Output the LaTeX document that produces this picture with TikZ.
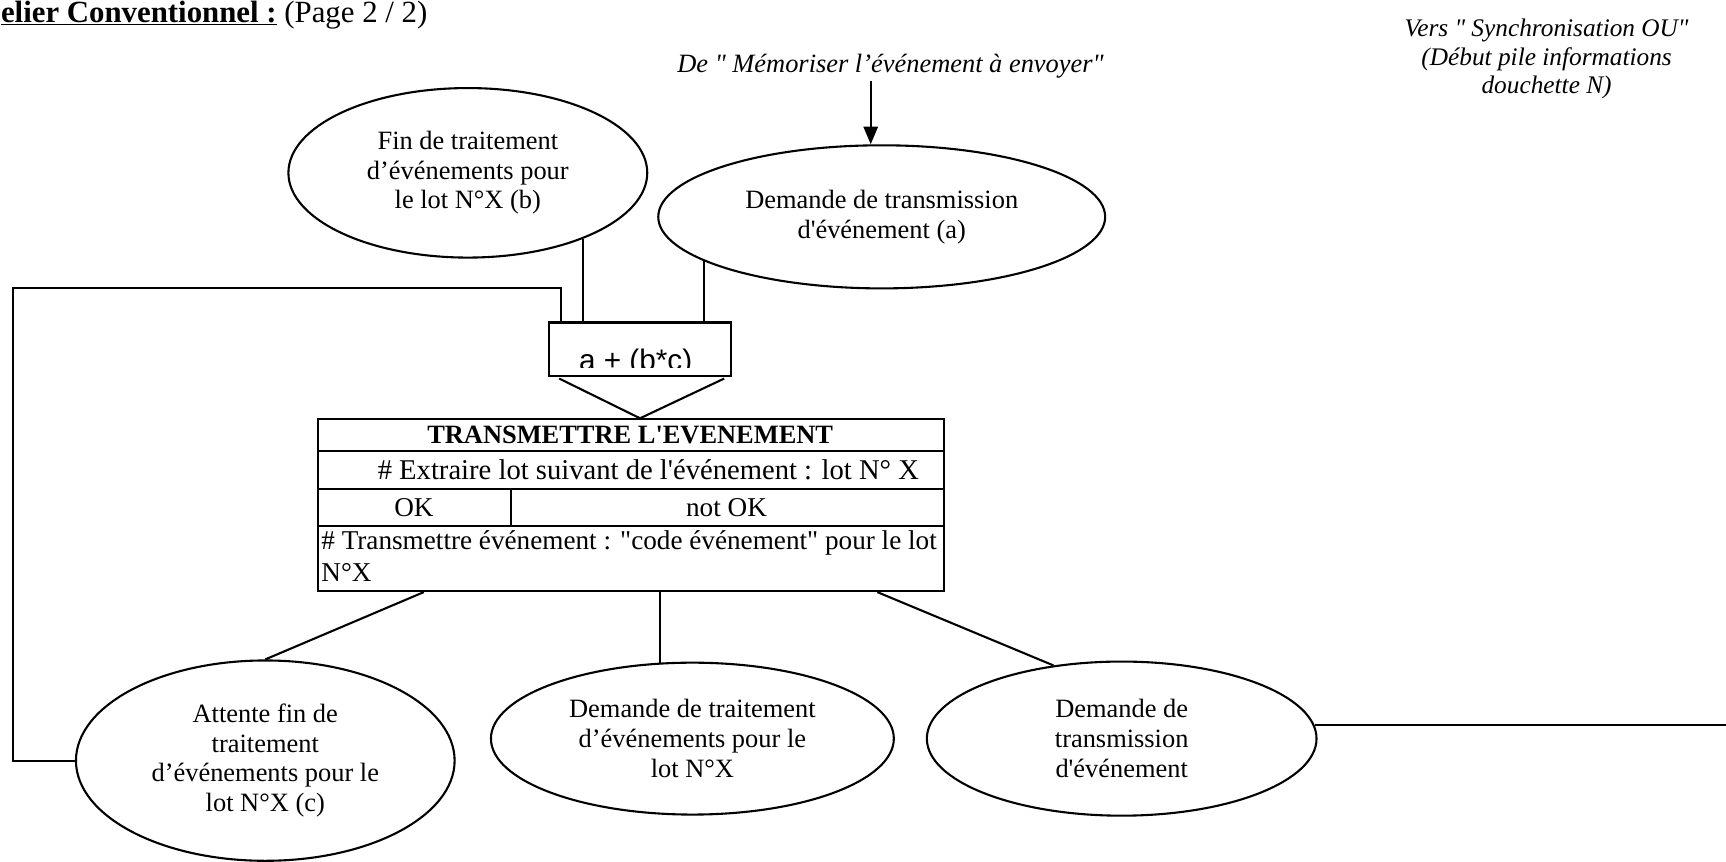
\documentclass[tikz,border=0pt]{standalone}
\usepackage{fontspec}
\setmainfont{Liberation Serif}[Ligatures=TeXOff]
\newfontfamily\arialf{Liberation Sans}
\usetikzlibrary{shapes.geometric,arrows.meta,calc}
\begin{document}
\begin{tikzpicture}[x=1pt,y=-1pt, line width=1.9pt,
  every node/.style={font=\fontsize{24}{27}\selectfont},
  oval/.style={draw, ellipse, inner sep=0pt, align=center},
  note/.style={font=\itshape\fontsize{24}{25.5}\selectfont, align=center},
  tbl/.style={font=\fontsize{24.7}{29}\selectfont},
  arrow/.style={-{Triangle[length=16pt,width=13pt]}}]
\useasboundingbox (0,0) rectangle (1568,783);

% title
\node[anchor=base west, inner sep=0pt, font=\fontsize{28}{30}\selectfont] (H) at (0,20)
  {\underline{\textbf{elier Conventionnel :}} (Page 2 / 2)};

% annotations
\node[note, anchor=base] (M) at (809,66) {De " Mémoriser l’événement à envoyer"};
\node[note, anchor=north, font=\itshape\fontsize{23}{26}\selectfont] (V) at (1405,13)
  {Vers " Synchronisation OU"\\(Début pile informations\\douchette N)};

% ellipses
\node[oval, minimum width=326pt, minimum height=154pt] (B) at (425,157)
  {Fin de traitement\\d’événements pour\\le lot N°X (b)};
\node[oval, minimum width=406pt, minimum height=130pt] (A) at (801,197)
  {Demande de transmission\\d'événement (a)};
\node[oval, minimum width=344pt, minimum height=182pt] (C) at (241,691)
  {Attente fin de\\traitement\\d’événements pour le\\lot N°X (c)};
\node[oval, minimum width=366pt, minimum height=138pt] (D) at (629,671)
  {Demande de traitement\\d’événements pour le\\lot N°X};
\node[oval, minimum width=354pt, minimum height=140pt] (E) at (1019,671)
  {Demande de\\transmission\\d'événement};

% synchronisation box
\node[draw, minimum width=165pt, minimum height=49pt, inner sep=0pt, anchor=north west] (F) at (498,292) {};
\begin{scope}
  \clip (F.north west) rectangle ($(F.south east)+(0,-9)$);
  \node[font=\arialf\fontsize{27}{30}\selectfont, anchor=base, inner sep=0pt] (Ft) at ($(F.south)+(-4,-6)$) {a + (b*c)};
\end{scope}

% table
\node[draw, minimum width=569pt, minimum height=156pt, inner sep=0pt, anchor=north west] (T) at (288,380) {};
\draw ($(T.north west)+(0,30)$) -- ($(T.north east)+(0,30)$);
\draw ($(T.north west)+(0,64)$) -- ($(T.north east)+(0,64)$);
\draw ($(T.north west)+(0,98)$) -- ($(T.north east)+(0,98)$);
\draw ($(T.north west)+(176,64)$) -- ($(T.north west)+(176,98)$);
\node[font=\bfseries\fontsize{24}{27}\selectfont] (T1) at (572.5,395) {TRANSMETTRE L'EVENEMENT};
\node[tbl, font=\fontsize{26}{29}\selectfont] (T2) at (589,427) {\# Extraire lot suivant de l'événement : lot N° X};
\node[tbl] (T3) at (376,461) {OK};
\node[tbl] (T4) at (660,461) {not OK};
\node[tbl, anchor=north west, align=left, inner sep=0pt] (T5) at (291,481)
  {\# Transmettre événement : "code événement" pour le lot\\N°X};

% V below box
\draw ($(F.south west)+(10,1)$) -- (F.south |- T.north) -- ($(F.south east)+(-7,1)$);

% connectors
\coordinate (arrs) at (791,74);
\draw[arrow] (arrs) -- (arrs |- A.north);
\draw (B.-30.5) -- (B.-30.5 |- F.north);
\draw (A.-166) -- (A.-166 |- F.north);
\coordinate (Lc) at (12,262);
\draw (C.west) -| (Lc) -| ($(F.north west)+(12,0)$);
\draw ($(T.south west)+(97,0)$) -- (C.north);
\draw (D.113.8 |- T.south) -- (D.113.8);
\draw ($(T.south west)+(509,0)$) -- (E.133);
\coordinate (Rout) at (1568,0);
\draw (E.4) -- (E.4 -| Rout);
\end{tikzpicture}
\end{document}
